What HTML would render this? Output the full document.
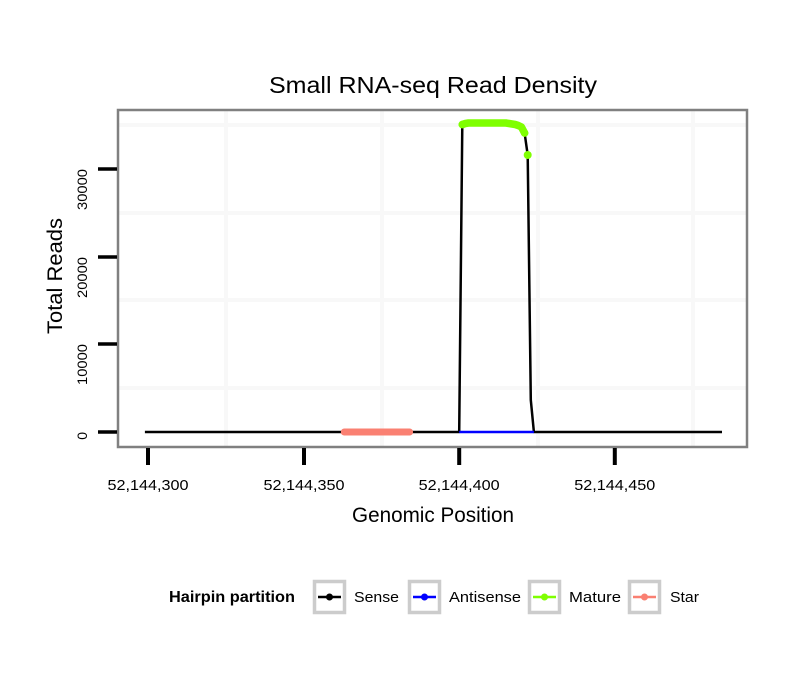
<!DOCTYPE html>
<html>
<head>
<meta charset="utf-8">
<style>
  html, body { margin:0; padding:0; background:#ffffff; }
  svg { display:block; }
  text { font-family: "Liberation Sans", "DejaVu Sans", sans-serif; fill:#000; }
</style>
</head>
<body>
<svg width="810" height="690" viewBox="0 0 810 690" xmlns="http://www.w3.org/2000/svg">
  <rect x="0" y="0" width="810" height="690" fill="#ffffff"/>

  <!-- Title -->
  <text x="433" y="93" font-size="23" text-anchor="middle" textLength="328" lengthAdjust="spacingAndGlyphs">Small RNA-seq Read Density</text>

  <!-- Panel background -->
  <rect x="118" y="110" width="629" height="337" fill="#ffffff"/>

  <!-- Grid lines (minor) -->
  <g stroke="#f8f8f8" stroke-width="4">
    <line x1="118" y1="125" x2="747" y2="125"/>
    <line x1="118" y1="213" x2="747" y2="213"/>
    <line x1="118" y1="300" x2="747" y2="300"/>
    <line x1="118" y1="388" x2="747" y2="388"/>
    <line x1="226" y1="110" x2="226" y2="447"/>
    <line x1="382" y1="110" x2="382" y2="447"/>
    <line x1="538" y1="110" x2="538" y2="447"/>
    <line x1="693" y1="110" x2="693" y2="447"/>
  </g>

  <!-- Sense line -->
  <path d="M144.9,432 L459.2,432 L462.3,124.5 L465.4,123.5 L468.5,123 L471.6,123 L474.8,123 L477.9,123 L481.0,123 L484.1,123 L487.2,123 L490.3,123 L493.4,123 L496.5,123 L499.7,123 L502.8,123 L505.9,123 L509.0,123.5 L512.1,124 L515.2,124.5 L518.3,125.5 L521.4,127 L524.6,133 L527.7,155 L530.8,400 L533.9,432 L722,432"
        fill="none" stroke="#000000" stroke-width="2.5" stroke-linejoin="round"/>

  <!-- Antisense line -->
  <line x1="459.2" y1="432" x2="533.9" y2="432" stroke="#0000ff" stroke-width="2.5"/>

  <!-- Star -->
  <line x1="344.3" y1="432" x2="409.6" y2="432" stroke="#fa8072" stroke-width="7" stroke-linecap="round"/>

  <!-- Mature points -->
  <g fill="#7fff00">
    <path d="M462.3,124.5 L465.4,123.5 L468.5,123 L505.9,123 L509.0,123.5 L512.1,124 L515.2,124.5 L518.3,125.5 L521.4,127 L524.6,133" fill="none" stroke="#7fff00" stroke-width="7.5" stroke-linejoin="round" stroke-linecap="round"/>
    <circle cx="462.3" cy="124.5" r="3.8"/>
    <circle cx="524.6" cy="133" r="3.8"/>
    <circle cx="527.7" cy="155" r="4"/>
  </g>

  <!-- Panel border -->
  <rect x="118" y="110" width="629" height="337" fill="none" stroke="#808080" stroke-width="2.5"/>

  <!-- Y ticks -->
  <g stroke="#000" stroke-width="3.5">
    <line x1="98" y1="169" x2="117" y2="169"/>
    <line x1="98" y1="257" x2="117" y2="257"/>
    <line x1="98" y1="344" x2="117" y2="344"/>
    <line x1="98" y1="432" x2="117" y2="432"/>
  </g>
  <!-- X ticks -->
  <g stroke="#000" stroke-width="4">
    <line x1="148" y1="448" x2="148" y2="465"/>
    <line x1="304" y1="448" x2="304" y2="465"/>
    <line x1="459.2" y1="448" x2="459.2" y2="465"/>
    <line x1="614.8" y1="448" x2="614.8" y2="465"/>
  </g>

  <!-- Y tick labels (rotated) -->
  <g font-size="14" text-anchor="end">
    <text transform="translate(87,169) rotate(-90)" textLength="41" lengthAdjust="spacingAndGlyphs">30000</text>
    <text transform="translate(87,257) rotate(-90)" textLength="41" lengthAdjust="spacingAndGlyphs">20000</text>
    <text transform="translate(87,344) rotate(-90)" textLength="41" lengthAdjust="spacingAndGlyphs">10000</text>
    <text transform="translate(87,432) rotate(-90)">0</text>
  </g>

  <!-- X tick labels -->
  <g font-size="15" text-anchor="middle">
    <text x="148" y="490" textLength="81" lengthAdjust="spacingAndGlyphs">52,144,300</text>
    <text x="304" y="490" textLength="81" lengthAdjust="spacingAndGlyphs">52,144,350</text>
    <text x="459.2" y="490" textLength="81" lengthAdjust="spacingAndGlyphs">52,144,400</text>
    <text x="614.8" y="490" textLength="81" lengthAdjust="spacingAndGlyphs">52,144,450</text>
  </g>

  <!-- Axis titles -->
  <text x="433" y="522" font-size="21" text-anchor="middle" textLength="162" lengthAdjust="spacingAndGlyphs">Genomic Position</text>
  <text transform="translate(62,276) rotate(-90)" font-size="21" text-anchor="middle" textLength="116" lengthAdjust="spacingAndGlyphs">Total Reads</text>

  <!-- Legend -->
  <text x="169" y="602" font-size="15.5" font-weight="bold" textLength="126" lengthAdjust="spacingAndGlyphs">Hairpin partition</text>

  <g stroke="#cccccc" stroke-width="3.5" fill="#ffffff">
    <rect x="314.5" y="581.5" width="30" height="31"/>
    <rect x="409.5" y="581.5" width="30" height="31"/>
    <rect x="529.5" y="581.5" width="30" height="31"/>
    <rect x="629.5" y="581.5" width="30" height="31"/>
  </g>

  <line x1="318" y1="597" x2="341" y2="597" stroke="#000000" stroke-width="2.5"/>
  <circle cx="329.5" cy="597" r="3.5" fill="#000000"/>
  <line x1="413" y1="597" x2="436" y2="597" stroke="#0000ff" stroke-width="2.5"/>
  <circle cx="424.5" cy="597" r="3.5" fill="#0000ff"/>
  <line x1="533" y1="597" x2="556" y2="597" stroke="#7fff00" stroke-width="2.5"/>
  <circle cx="544.5" cy="597" r="3.5" fill="#7fff00"/>
  <line x1="633" y1="597" x2="656" y2="597" stroke="#fa8072" stroke-width="2.5"/>
  <circle cx="644.5" cy="597" r="3.5" fill="#fa8072"/>

  <g font-size="15">
    <text x="354" y="602" textLength="45" lengthAdjust="spacingAndGlyphs">Sense</text>
    <text x="449" y="602" textLength="72" lengthAdjust="spacingAndGlyphs">Antisense</text>
    <text x="569" y="602" textLength="52" lengthAdjust="spacingAndGlyphs">Mature</text>
    <text x="670" y="602" textLength="29" lengthAdjust="spacingAndGlyphs">Star</text>
  </g>
</svg>
</body>
</html>
